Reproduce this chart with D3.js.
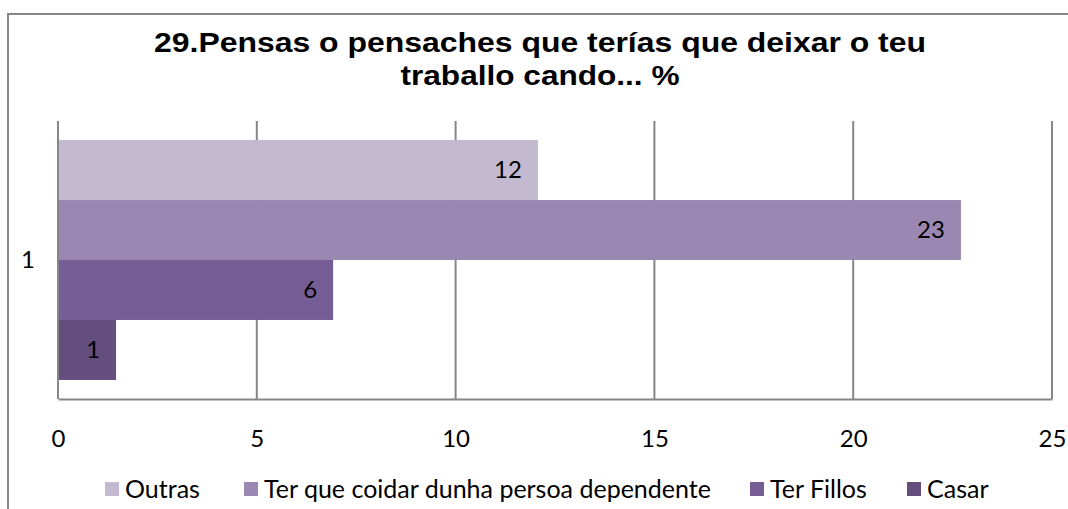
<!DOCTYPE html>
<html>
<head>
<meta charset="utf-8">
<script src="https://cdn.jsdelivr.net/npm/d3@7"></script>
<style>
  body { margin: 0; background: #fff; }
  text { font-family: Lato, "Open Sans", sans-serif; }
</style>
</head>
<body>
<script>
// chart data
var categories = ["1"];
var seriesNames = ["Outras", "Ter que coidar dunha persoa dependente", "Ter Fillos", "Casar"];
var seriesValues = [12.07, 22.71, 6.92, 1.46];
var shownLabels = ["12", "23", "6", "1"];
var seriesColors = ["#c3b9d0", "#9b88b2", "#765d96", "#644e7e"];
var xTicks = [0, 5, 10, 15, 20, 25];
var titleLines = ["29.Pensas o pensaches que terías que deixar o teu", "traballo cando... %"];

var W = 1068, H = 509;
var mLeft = 58, mRight = 1052, mTop = 121, mBottom = 399;

var svg = d3.select("body").append("svg").attr("width", W).attr("height", H);

// outer frame (cropped on right/bottom)
svg.append("path")
    .attr("d", "M8," + (H + 2) + " L8,14 L" + (W + 2) + ",14")
    .style("fill", "none")
    .style("stroke", "#868686")
    .style("stroke-width", 2);

// title
var titleW = [772, 279];
svg.selectAll(".title").data(titleLines).enter().append("text")
    .attr("class", "title")
    .attr("x", 540)
    .attr("y", function (d, i) { return 52 + i * 33; })
    .attr("text-anchor", "middle")
    .attr("textLength", function (d, i) { return titleW[i]; })
    .attr("lengthAdjust", "spacingAndGlyphs")
    .style("font-family", "'Liberation Sans', Arial, sans-serif")
    .style("font-weight", "bold")
    .style("font-size", "28px")
    .text(function (d) { return d; });

var x = d3.scaleLinear().domain([0, 25]).range([mLeft, mRight]);
var y = d3.scaleBand().domain(categories).range([mTop, mBottom]).paddingInner(0.137).paddingOuter(0.0685);
var ys = d3.scaleBand().domain(seriesNames).range([0, y.bandwidth()]);

// grid lines
svg.selectAll(".grid").data(xTicks.slice(1)).enter().append("line")
    .attr("class", "grid")
    .attr("x1", function (d) { return x(d); })
    .attr("x2", function (d) { return x(d); })
    .attr("y1", mTop)
    .attr("y2", mBottom)
    .style("stroke", "#868686")
    .style("stroke-width", 2);

// bars
svg.selectAll(".bar").data(seriesNames).enter().append("rect")
    .attr("class", "bar")
    .attr("x", x(0))
    .attr("y", function (d) { return y("1") + ys(d); })
    .attr("width", function (d, i) { return x(seriesValues[i]) - x(0); })
    .attr("height", ys.bandwidth())
    .style("fill", function (d, i) { return seriesColors[i]; });

// data labels
svg.selectAll(".lbl").data(seriesNames).enter().append("text")
    .attr("class", "lbl")
    .attr("x", function (d, i) { return x(seriesValues[i]) - 16; })
    .attr("y", function (d) { return y("1") + ys(d) + ys.bandwidth() / 2; })
    .attr("dy", "0.35em")
    .attr("text-anchor", "end")
    .style("font-size", "24px")
    .text(function (d, i) { return shownLabels[i]; });

// axes
var xAxis = svg.append("g")
    .attr("transform", "translate(0," + mBottom + ")")
    .call(d3.axisBottom(x).tickValues(xTicks).tickSize(0).tickPadding(31));
xAxis.select(".domain").style("stroke", "#868686").style("stroke-width", 2);
xAxis.selectAll("text").style("font-size", "24px").style("fill", "#000")
    .style("font-family", "Lato, sans-serif");

var yAxis = svg.append("g")
    .attr("transform", "translate(" + mLeft + ",0)")
    .call(d3.axisLeft(y).tickSize(0).tickPadding(23));
yAxis.select(".domain").attr("d", "M0," + mTop + "V" + mBottom)
    .style("stroke", "#868686").style("stroke-width", 2);
yAxis.selectAll("text").style("font-size", "24px").style("fill", "#000")
    .style("font-family", "Lato, sans-serif");

// legend
var legendX = [105, 244, 750, 907];
var leg = svg.selectAll(".leg").data(seriesNames).enter().append("g")
    .attr("class", "leg")
    .attr("transform", function (d, i) { return "translate(" + legendX[i] + ",482)"; });
leg.append("rect")
    .attr("width", 14).attr("height", 14)
    .style("fill", function (d, i) { return seriesColors[i]; });
leg.append("text")
    .attr("x", 20)
    .attr("y", 7)
    .attr("dy", "0.35em")
    .style("font-size", "25px")
    .text(function (d) { return d; });
</script>
</body>
</html>
